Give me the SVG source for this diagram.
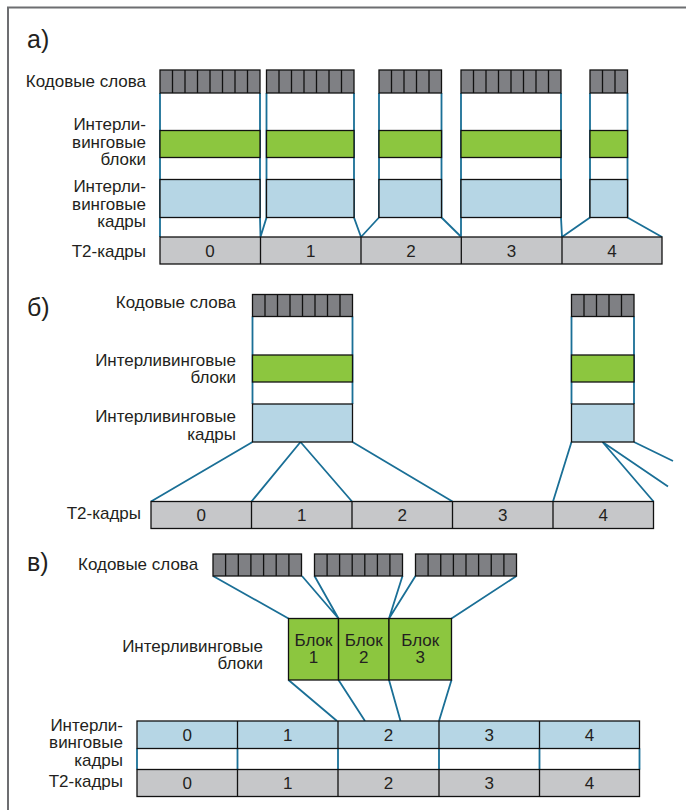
<svg xmlns="http://www.w3.org/2000/svg" width="686" height="810" viewBox="0 0 686 810">
<style>
text{font-family:"Liberation Sans",Arial,sans-serif;font-size:17px;fill:#231f20}
.r{text-anchor:end}
.m{text-anchor:middle}
.big{font-size:25px}
.cw{fill:#7f8084;stroke:#111;stroke-width:1.3}
.cl{fill:none;stroke:#111;stroke-width:1.3}
.gr{fill:#8cc63f;stroke:#111;stroke-width:1.3}
.bl{fill:#b6d6e5;stroke:#111;stroke-width:1.3}
.t2{fill:#c6c7c9;stroke:#111;stroke-width:1.3}
.tl{fill:none;stroke:#1a6f96;stroke-width:1.8}
.fr{fill:none;stroke:#6d6e71;stroke-width:2}
</style>
<path class="fr" d="M8,810 V7.5 H686"/>

<!-- ===== a) ===== -->
<g id="a-labels">
<text class="big" x="27" y="48">а)</text>
<text class="r" x="146" y="87">Кодовые слова</text>
<text class="r" x="146" y="130">Интерли-<tspan x="146" dy="17.6">винговые</tspan><tspan x="146" dy="17.6">блоки</tspan></text>
<text class="r" x="146" y="192">Интерли-<tspan x="146" dy="17.6">винговые</tspan><tspan x="146" dy="17.6">кадры</tspan></text>
<text class="r" x="146" y="257">Т2-кадры</text>
</g>
<g id="a-connectors">
<path class="tl" d="M160,93 V237 M260,93 V217.5 L260.5,237 M266.5,93 V217.5 L260.5,237 M354,93 V217.5 L361,237 M379,93 V217.5 L361,237 M441.5,93 V217.5 L461.3,237 M461,93 V237 M561,93 V217.5 L562,237 M590,93 V217.5 L562,237 M627.5,93 V217.5 L662,237"/>
</g>
<g id="a-col1">
<rect class="cw" x="160" y="70" width="100" height="23"/>
<path class="cl" d="M172.5,70V93M185,70V93M197.5,70V93M210,70V93M222.5,70V93M235,70V93M247.5,70V93"/>
<rect class="gr" x="160" y="130.5" width="100" height="27"/>
<rect class="bl" x="160" y="179.5" width="100" height="38"/>
</g>
<g id="a-col2">
<rect class="cw" x="266.5" y="70" width="87.5" height="23"/>
<path class="cl" d="M279,70V93M291.5,70V93M304,70V93M316.5,70V93M329,70V93M341.5,70V93"/>
<rect class="gr" x="266.5" y="130.5" width="87.5" height="27"/>
<rect class="bl" x="266.5" y="179.5" width="87.5" height="38"/>
</g>
<g id="a-col3">
<rect class="cw" x="379" y="70" width="62.5" height="23"/>
<path class="cl" d="M391.5,70V93M404,70V93M416.5,70V93M429,70V93"/>
<rect class="gr" x="379" y="130.5" width="62.5" height="27"/>
<rect class="bl" x="379" y="179.5" width="62.5" height="38"/>
</g>
<g id="a-col4">
<rect class="cw" x="461" y="70" width="100" height="23"/>
<path class="cl" d="M473.5,70V93M486,70V93M498.5,70V93M511,70V93M523.5,70V93M536,70V93M548.5,70V93"/>
<rect class="gr" x="461" y="130.5" width="100" height="27"/>
<rect class="bl" x="461" y="179.5" width="100" height="38"/>
</g>
<g id="a-col5">
<rect class="cw" x="590" y="70" width="37.5" height="23"/>
<path class="cl" d="M602.5,70V93M615,70V93"/>
<rect class="gr" x="590" y="130.5" width="37.5" height="27"/>
<rect class="bl" x="590" y="179.5" width="37.5" height="38"/>
</g>
<g id="a-t2">
<rect class="t2" x="160" y="237" width="502" height="27"/>
<path class="cl" d="M260.5,237V264M361,237V264M461.3,237V264M562,237V264"/>
<text class="m" x="210" y="256.5">0</text>
<text class="m" x="310.7" y="256.5">1</text>
<text class="m" x="411" y="256.5">2</text>
<text class="m" x="511.6" y="256.5">3</text>
<text class="m" x="612" y="256.5">4</text>
</g>

<!-- ===== б) ===== -->
<g id="b-labels">
<text class="big" x="27" y="316">б)</text>
<text class="r" x="236" y="308">Кодовые слова</text>
<text class="r" x="236" y="365.5">Интерливинговые<tspan x="236" dy="17.6">блоки</tspan></text>
<text class="r" x="236" y="422">Интерливинговые<tspan x="236" dy="17.6">кадры</tspan></text>
<text class="r" x="141" y="519">Т2-кадры</text>
</g>
<g id="b-connectors">
<path class="tl" d="M252.5,316.5V404M352.5,316.5V404M571.5,316.5V404M634,316.5V404"/>
<path class="tl" d="M252.5,442L151,501.5M300.5,442L251.5,501.5M300.5,442L352,501.5M352.5,442L452.5,501.5M571.5,442L553,501.5M602.5,442L653.5,501.5M602.5,442L668,486.5M634,442L673,461"/>
</g>
<g id="b-col1">
<rect class="cw" x="252.5" y="294.5" width="100" height="22"/>
<path class="cl" d="M265,294.5V316.5M277.5,294.5V316.5M290,294.5V316.5M302.5,294.5V316.5M315,294.5V316.5M327.5,294.5V316.5M340,294.5V316.5"/>
<rect class="gr" x="252.5" y="355" width="100" height="27"/>
<rect class="bl" x="252.5" y="404" width="100" height="38"/>
</g>
<g id="b-col2">
<rect class="cw" x="571.5" y="294.5" width="62.5" height="22"/>
<path class="cl" d="M584,294.5V316.5M596.5,294.5V316.5M609,294.5V316.5M621.5,294.5V316.5"/>
<rect class="gr" x="571.5" y="355" width="62.5" height="27"/>
<rect class="bl" x="571.5" y="404" width="62.5" height="38"/>
</g>
<g id="b-t2">
<rect class="t2" x="151" y="501.5" width="502.5" height="27"/>
<path class="cl" d="M251.5,501.5V528.5M352,501.5V528.5M452.5,501.5V528.5M553,501.5V528.5"/>
<text class="m" x="201.2" y="521">0</text>
<text class="m" x="301.7" y="521">1</text>
<text class="m" x="402.2" y="521">2</text>
<text class="m" x="502.7" y="521">3</text>
<text class="m" x="603.2" y="521">4</text>
</g>

<!-- ===== в) ===== -->
<g id="c-labels">
<text class="big" x="27" y="571">в)</text>
<text x="78" y="570">Кодовые слова</text>
<text class="r" x="263" y="651.5">Интерливинговые<tspan x="263" dy="17.6">блоки</tspan></text>
<text class="r" x="123" y="730.5">Интерли-<tspan x="123" dy="17.6">винговые</tspan><tspan x="123" dy="17.6">кадры</tspan></text>
<text class="r" x="123" y="787">Т2-кадры</text>
</g>
<g id="c-connectors">
<path class="tl" d="M213,576L288.5,618.5M302,576L338.5,618.5M314.5,576L338.5,618.5M402.5,576L389,618.5M415.5,576L389,618.5M516.5,576L451.5,618.5"/>
<path class="tl" d="M288.5,680L337,721M338.5,680L365,721M389,680L400.5,721M451.5,680L439,721"/>
<path class="tl" d="M137,748.5V769.5M237.5,748.5V769.5M338,748.5V769.5M439,748.5V769.5M539.5,748.5V769.5M639.5,748.5V769.5"/>
</g>
<g id="c-cw1">
<rect class="cw" x="213" y="554" width="88.5" height="22"/>
<path class="cl" d="M225.6,554V576M238.3,554V576M250.9,554V576M263.6,554V576M276.2,554V576M288.9,554V576"/>
</g>
<g id="c-cw2">
<rect class="cw" x="314.5" y="554" width="88" height="22"/>
<path class="cl" d="M327.1,554V576M339.6,554V576M352.2,554V576M364.8,554V576M377.4,554V576M389.9,554V576"/>
</g>
<g id="c-cw3">
<rect class="cw" x="415.5" y="554" width="101" height="22"/>
<path class="cl" d="M428.1,554V576M440.75,554V576M453.4,554V576M466,554V576M478.6,554V576M491.25,554V576M503.9,554V576"/>
</g>
<g id="c-block1">
<rect class="gr" x="288.5" y="618.5" width="50" height="61.5"/>
<text class="m" x="313.5" y="645.5">Блок<tspan x="313.5" dy="17.6">1</tspan></text>
</g>
<g id="c-block2">
<rect class="gr" x="338.5" y="618.5" width="50.5" height="61.5"/>
<text class="m" x="363.75" y="645.5">Блок<tspan x="363.75" dy="17.6">2</tspan></text>
</g>
<g id="c-block3">
<rect class="gr" x="389" y="618.5" width="62.5" height="61.5"/>
<text class="m" x="420.25" y="645.5">Блок<tspan x="420.25" dy="17.6">3</tspan></text>
</g>
<g id="c-iframes">
<rect class="bl" x="137" y="721" width="502.5" height="27.5"/>
<path class="cl" d="M237.5,721V748.5M338,721V748.5M439,721V748.5M539.5,721V748.5"/>
<text class="m" x="187.2" y="740.5">0</text>
<text class="m" x="287.7" y="740.5">1</text>
<text class="m" x="388.5" y="740.5">2</text>
<text class="m" x="489.2" y="740.5">3</text>
<text class="m" x="589.5" y="740.5">4</text>
</g>
<g id="c-t2">
<rect class="t2" x="137" y="769.5" width="502.5" height="27"/>
<path class="cl" d="M237.5,769.5V796.5M338,769.5V796.5M439,769.5V796.5M539.5,769.5V796.5"/>
<text class="m" x="187.2" y="789">0</text>
<text class="m" x="287.7" y="789">1</text>
<text class="m" x="388.5" y="789">2</text>
<text class="m" x="489.2" y="789">3</text>
<text class="m" x="589.5" y="789">4</text>
</g>
</svg>
